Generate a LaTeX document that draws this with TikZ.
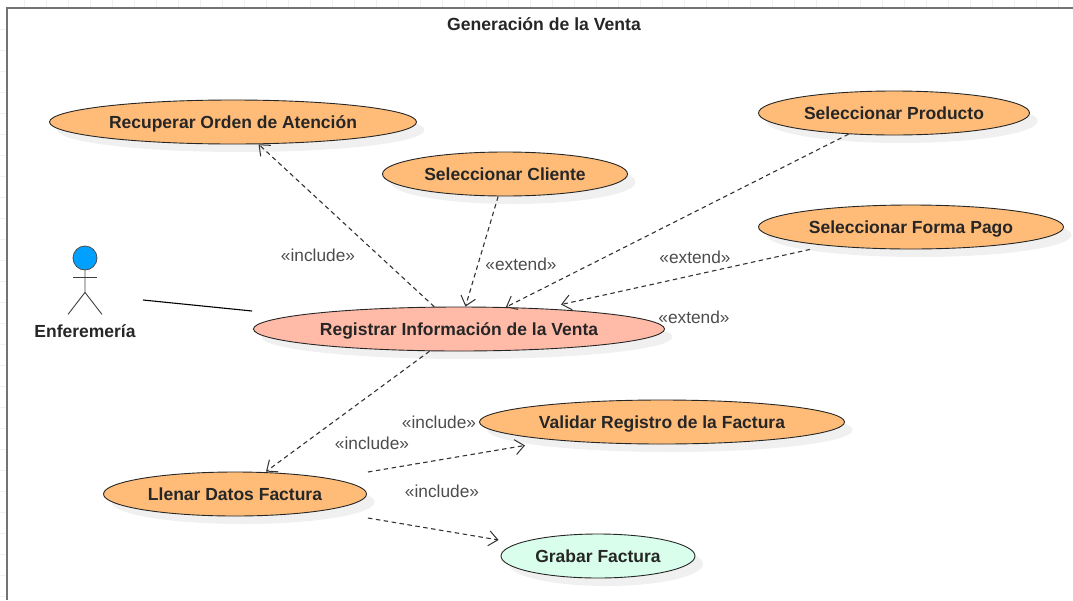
\documentclass[tikz,border=0pt]{standalone}
\usepackage{fontspec}
\setmainfont{Liberation Sans}
\usetikzlibrary{arrows.meta,shapes.geometric,shadows}
\definecolor{naranja}{HTML}{FFBC78}
\definecolor{salmon}{HTML}{FFBBA8}
\definecolor{menta}{HTML}{D9FFEC}
\definecolor{azul}{HTML}{00A0FF}
\tikzset{
  caso/.style={ellipse,draw=black!85,line width=0.9pt,minimum height=44pt,inner sep=0pt,fill=naranja,
    font=\fontsize{17.5}{20}\selectfont\bfseries,text=black!85,text height=15.6pt,text depth=2pt,
    drop shadow={shadow xshift=8pt,shadow yshift=-8pt,fill=black!6,opacity=1}},
  etiqueta/.style={font=\fontsize{17.3}{20}\selectfont,text=black!70,inner sep=0pt},
  dep/.style={draw=black!80,line width=1.1pt,dash pattern=on 4.5pt off 3.5pt,
    -{Straight Barb[length=9pt,width=15pt,line width=1pt,sep=0pt]}},
}
\begin{document}
\begin{tikzpicture}[x=1pt,y=-1pt]
\useasboundingbox (0,0) rectangle (1073,600);
% grid outside the frame
\foreach \x in {24,46,...,1070} \draw[black!6] (\x,0) -- (\x,7);
\foreach \y in {29,50,...,600} \draw[black!6] (0,\y) -- (6,\y);
\draw[black!55,line width=2pt] (7,600) -- (7,8) -- (1073,8);
\node[font=\fontsize{17.6}{20}\selectfont\bfseries,text=black!85,inner sep=0pt] (Tit) at (544,24) {Generación de la Venta};
% use cases
\node[caso,minimum width=367pt] (Rec) at (233,122) {Recuperar Orden de Atención};
\node[caso,minimum width=245pt] (Cli) at (505,174) {Seleccionar Cliente};
\node[caso,minimum width=271pt] (Pro) at (894,113) {Seleccionar Producto};
\node[caso,minimum width=305pt] (For) at (911,227) {Seleccionar Forma Pago};
\node[caso,minimum width=411pt,fill=salmon] (Reg) at (459,329) {Registrar Información de la Venta};
\node[caso,minimum width=365pt] (Val) at (662,422) {Validar Registro de la Factura};
\node[caso,minimum width=263pt] (Lle) at (235,494) {Llenar Datos Factura};
\node[caso,minimum width=194pt,fill=menta] (Gra) at (598,556) {Grabar Factura};
% actor
\node[circle,draw=black!70,line width=0.8pt,fill=azul,minimum size=24pt,inner sep=0pt] (Act) at (85,258) {};
\draw[black!75,line width=0.9pt] (Act.south) -- ++(0,22) coordinate (Cad) -- ++(-17,22);
\draw[black!75,line width=0.9pt] (Cad) -- ++(17,22);
\draw[black!75,line width=0.9pt] (73,277) -- (97,277);
\node[font=\fontsize{17.5}{20}\selectfont\bfseries,text=black!85,inner sep=0pt] (Enf) at (85,331) {Enferemería};
% connectors
\draw[black,line width=1.1pt] ([shift={(58,42)}]Act.center) -- ([shift={(-1,-18)}]Reg.west);
\draw[dep] (Reg.138.7) -- (Rec.-41.3);
\draw[dep] (Cli.-107.6) -- (Reg.74.7);
\draw[dep] (Pro.205.6) -- (Reg.25.2);
\draw[dep] ([shift={(-101,0)}]For.south) -- ([shift={(102,-2)}]Reg.north);
\draw[dep] (Reg.-143.1) -- ([shift={(31,0)}]Lle.north);
\draw[dep] ([shift={(1,-22)}]Lle.east) -- ([shift={(-137,1)}]Val.south);
\draw[dep] ([shift={(1,24)}]Lle.east) -- ([shift={(-2,-16)}]Gra.west);
% labels
\node[etiqueta] (InA) at (318,255) {«include»};
\node[etiqueta] (ExA) at (521,264) {«extend»};
\node[etiqueta] (ExB) at (695,257) {«extend»};
\node[etiqueta] (ExC) at (694,317) {«extend»};
\node[etiqueta] (InB) at (439,422) {«include»};
\node[etiqueta] (InC) at (372,443) {«include»};
\node[etiqueta] (InD) at (442,491) {«include»};
\end{tikzpicture}
\end{document}
